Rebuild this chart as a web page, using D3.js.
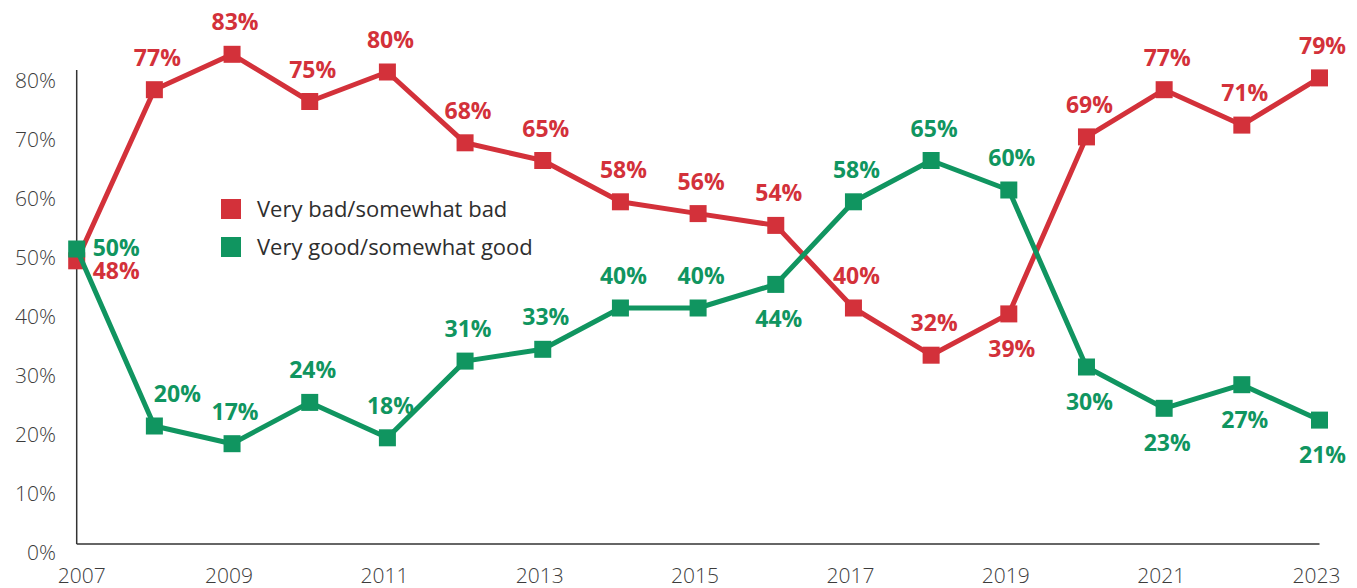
<!DOCTYPE html>
<html>
<head>
<meta charset="utf-8">
<script src="https://cdn.jsdelivr.net/npm/d3@7"></script>
<style>
  html, body { margin: 0; padding: 0; background: #fff; }
  svg { display: block; }
  .tick-label { font-family: "Open Sans", "Noto Sans", sans-serif; font-weight: 300; font-size: 21px; fill: #3c3c3c; }
  .legend-text { font-family: "Open Sans", "Noto Sans", sans-serif; font-size: 22px; fill: #2e2e2e; }
  .val { font-family: "Open Sans", "Noto Sans", sans-serif; font-weight: 700; font-size: 23px; }
</style>
</head>
<body>
<svg width="1357" height="588"></svg>
<script>
const years = [2007, 2008, 2009, 2010, 2011, 2012, 2013, 2014, 2015, 2016, 2017, 2018, 2019, 2020, 2021, 2022, 2023];
const badValues  = [48, 77, 83, 75, 80, 68, 65, 58, 56, 54, 40, 32, 39, 69, 77, 71, 79];
const goodValues = [50, 20, 17, 24, 18, 31, 33, 40, 40, 44, 58, 65, 60, 30, 23, 27, 21];
// where each value label sits: a = above, ar = above and to the right, b = below, r = right, rb = right and a little low
const badSides  = ["rb", "a", "a", "a", "a", "a", "a", "a", "a", "a", "a", "a", "b", "a", "a", "a", "a"];
const goodSides = ["r", "ar", "a", "a", "a", "a", "a", "a", "a", "b", "a", "a", "a", "b", "b", "b", "b"];
const yTicks = [0, 10, 20, 30, 40, 50, 60, 70, 80];
const xTicks = [2007, 2009, 2011, 2013, 2015, 2017, 2019, 2021, 2023];
const seriesNames = ["Very bad/somewhat bad", "Very good/somewhat good"];

const red = "#d3313a", green = "#109560";

const svg = d3.select("svg");
const x = d3.scaleLinear().domain([2007, 2023]).range([76.7, 1319.5]);
const y = d3.scaleLinear().domain([0, 80]).range([544, 72]);

// axes
svg.append("line")
  .attr("x1", x(2007)).attr("x2", x(2007))
  .attr("y1", y(0)).attr("y2", y(80) - 2)
  .attr("stroke", "#333").attr("stroke-width", 1.5);
svg.append("line")
  .attr("x1", x(2007)).attr("x2", x(2023))
  .attr("y1", y(0)).attr("y2", y(0))
  .attr("stroke", "#333").attr("stroke-width", 1.5);

svg.selectAll(".ytick")
  .data(yTicks)
  .enter()
  .append("text")
  .attr("class", "tick-label")
  .attr("x", 56)
  .attr("y", d => y(d) + 16)
  .attr("text-anchor", "end")
  .text(d => d + "%");

svg.selectAll(".xtick")
  .data(xTicks)
  .enter()
  .append("text")
  .attr("class", "tick-label")
  .attr("x", d => x(d) + (d === 2007 ? 5 : -3))
  .attr("y", 583)
  .attr("text-anchor", "middle")
  .text(d => d);

const line = d3.line().x(d => x(d.year)).y(d => y(d.value));

function drawSeries(values, sides, color) {
  const pts = years.map((yr, i) => ({year: yr, value: values[i], side: sides[i]}));
  svg.append("path")
    .datum(pts)
    .attr("fill", "none")
    .attr("stroke", color)
    .attr("stroke-width", 5)
    .attr("stroke-linejoin", "round")
    .attr("d", line);

  svg.selectAll(null)
    .data(pts)
    .enter()
    .append("rect")
    .attr("x", d => x(d.year) - 8.5)
    .attr("y", d => y(d.value) - 8.5)
    .attr("width", 17)
    .attr("height", 17)
    .attr("fill", color);

  svg.selectAll(null)
    .data(pts)
    .enter()
    .append("text")
    .attr("class", "val")
    .attr("fill", color)
    .attr("text-anchor", d => d.side.startsWith("r") ? "start" : "middle")
    .attr("x", d => {
      if (d.side.startsWith("r")) return x(d.year) + 16;
      if (d.side === "ar") return x(d.year) + 23;
      return x(d.year) + 3;
    })
    .attr("y", d => {
      const py = y(d.value);
      if (d.side === "a" || d.side === "ar") return py - 24;
      if (d.side === "b") return py + 43;
      if (d.side === "rb") return py + 18;
      return py + 7;
    })
    .text(d => d.value + "%");
}

drawSeries(badValues, badSides, red);
drawSeries(goodValues, goodSides, green);

// legend
const legend = svg.append("g").attr("transform", "translate(221,199)");
[red, green].forEach((c, i) => {
  legend.append("rect")
    .attr("x", 0).attr("y", i * 38)
    .attr("width", 20).attr("height", 20)
    .attr("fill", c);
  legend.append("text")
    .attr("class", "legend-text")
    .attr("x", 36).attr("y", i * 38 + 18)
    .text(seriesNames[i]);
});
</script>
</body>
</html>
